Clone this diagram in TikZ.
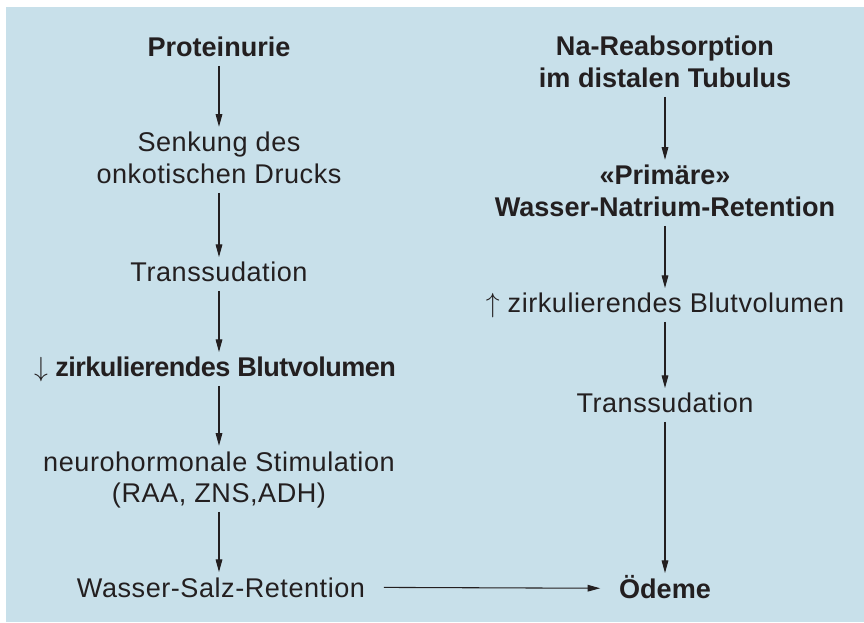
\documentclass[tikz,border=0pt]{standalone}
\usepackage{fontspec}
\setmainfont{Liberation Sans}
\newfontfamily\regf{Liberation Sans}[LetterSpace=2]
\newfontfamily\boldf{Liberation Sans}
\usetikzlibrary{arrows.meta}
\definecolor{bg}{RGB}{200,224,234}
\definecolor{ink}{RGB}{35,31,32}
\begin{document}
\begin{tikzpicture}[x=0.75pt,y=-0.75pt,
  txt/.style={inner sep=0pt, anchor=base, text depth=0pt, align=center, text=ink,
    font=\regf\fontsize{20.3}{24}\selectfont},
  btxt/.style={txt, font=\boldf\bfseries\fontsize{20.3}{24}\selectfont},
  one/.style={text height=14.5pt},
  arr/.style={draw=ink, line width=0.8pt, -{Triangle[length=9.5pt,width=5pt]},
    shorten <=6.5pt, shorten >=4pt},
  harr/.style={draw=ink, line width=0.8pt, -{Triangle[length=9.5pt,width=5pt]},
    shorten <=14pt, shorten >=14pt}]
\useasboundingbox (0,0) rectangle (864,623);
\fill[bg] (6,7) rectangle (864,622);
% left column
\node[btxt,one] (p) at (219,57) {Proteinurie};
\node[txt] (s) at (219,184) {Senkung des\\onkotischen Drucks};
\node[txt,one] (t1) at (219,282) {Transsudation};
\node[btxt,one] (z1) at (215,377) {$\downarrow$ {\addfontfeatures{LetterSpace=-2}zirkulierendes Blutvolumen}};
\node[txt] (n) at (219,503) {neurohormonale Stimulation\\(RAA, ZNS,ADH)};
\node[txt,one] (w) at (221,597) {Wasser-Salz-Retention};
% right column
\node[btxt] (na) at (665,88) {Na-Reabsorption\\im distalen Tubulus};
\node[btxt] (pr) at (665,217) {«Primäre»\\Wasser-Natrium-Retention};
\node[txt,one] (z2) at (665,313) {$\uparrow$ zirkulierendes Blutvolumen};
\node[txt,one] (t2) at (665,413) {Transsudation};
\node[btxt,one] (o) at (665,598) {Ödeme};
% connectors
\draw[arr] (p.south) -- (p.south |- s.north);
\draw[arr] (s.south) -- (s.south |- t1.north);
\draw[arr] (t1.south) -- (t1.south |- z1.north);
\draw[arr] (n.north |- z1.south) -- (n.north);
\draw[arr] (n.south) -- (n.south |- w.north);
\draw[arr] (na.south) -- (na.south |- pr.north);
\draw[arr] (pr.south) -- (pr.south |- z2.north);
\draw[arr] (z2.south) -- (z2.south |- t2.north);
\draw[arr] (t2.south) -- (t2.south |- o.north);
\draw[harr] (w.east) -- (o.west);
\end{tikzpicture}
\end{document}
